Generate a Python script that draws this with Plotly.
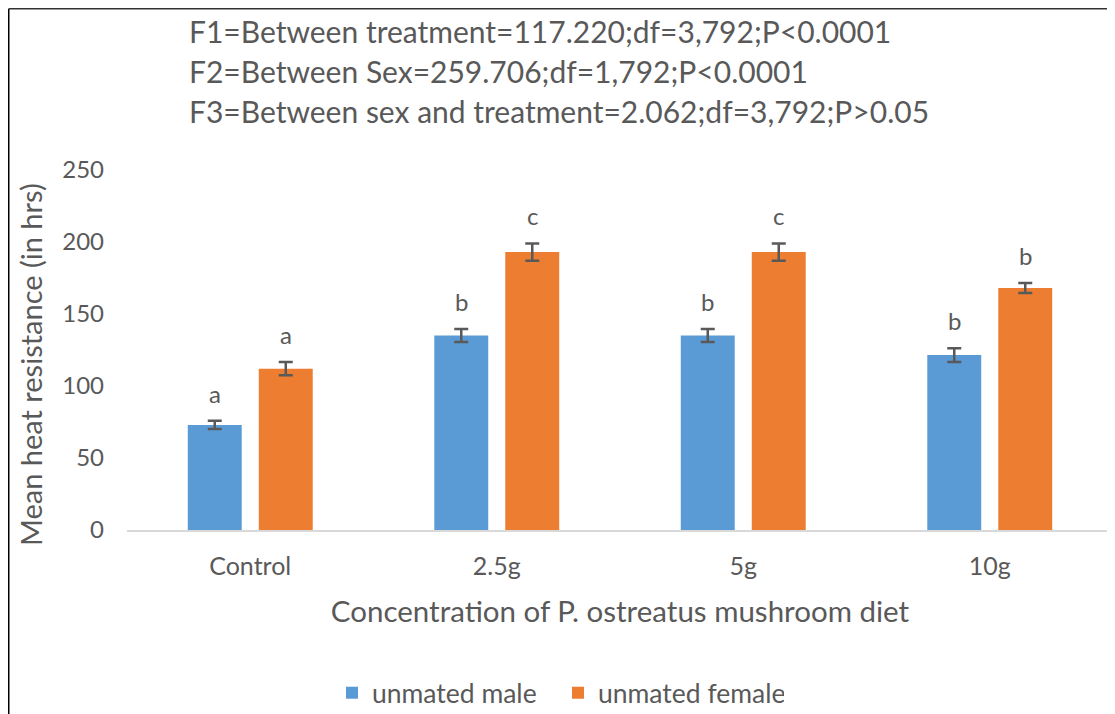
import plotly.graph_objects as go

categories = ["Control", "2.5g", "5g", "10g"]
male_values = [73, 135, 135, 121.5]
male_errors = [2.8, 4.5, 4.5, 4.8]
female_values = [112, 193, 193, 168]
female_errors = [4.6, 6, 6, 3.5]
male_letters = ["a", "b", "b", "b"]
female_letters = ["a", "c", "c", "b"]
stats_lines = [
    "F1=Between treatment=117.220;df=3,792;P<0.0001",
    "F2=Between Sex=259.706;df=1,792;P<0.0001",
    "F3=Between sex and treatment=2.062;df=3,792;P>0.05",
]

FONT = "Lato"
GRAY = "#595959"
OFF = 8  # page body margin
W, H = 1115 - OFF, 714 - OFF
ML, MT, PW, PH = 127 - OFF, 170 - OFF, 986, 360
MR, MB = W - ML - PW, H - MT - PH

def px_x(px):
    return (px - OFF - ML) / PW

def px_y(py):
    return (MT + PH - (py - OFF)) / PH

fig = go.Figure()
fig.add_trace(go.Bar(
    name="unmated male", x=categories, y=male_values,
    marker=dict(color="#5B9BD5", line=dict(width=0)),
    error_y=dict(type="data", array=male_errors, color=GRAY, thickness=2.5, width=7),
))
fig.add_trace(go.Bar(
    name="unmated female", x=categories, y=female_values,
    marker=dict(color="#ED7D31", line=dict(width=0)),
    error_y=dict(type="data", array=female_errors, color=GRAY, thickness=2.5, width=7),
))

annotations = []
for c, v, e, t in zip(categories, male_values, male_errors, male_letters):
    annotations.append(dict(x=c, y=v + e, xref="x", yref="y", text=t, showarrow=False,
                            xshift=-35.5, yshift=11, yanchor="bottom",
                            font=dict(family=FONT, size=24, color=GRAY)))
for c, v, e, t in zip(categories, female_values, female_errors, female_letters):
    annotations.append(dict(x=c, y=v + e, xref="x", yref="y", text=t, showarrow=False,
                            xshift=35.5, yshift=11, yanchor="bottom",
                            font=dict(family=FONT, size=24, color=GRAY)))
for i, line in enumerate(stats_lines):
    annotations.append(dict(x=px_x(187), y=px_y(31 + 40 * i), xref="paper", yref="paper",
                            text=line, showarrow=False, xanchor="left", yanchor="middle",
                            font=dict(family=FONT, size=30, color=GRAY)))
annotations.append(dict(x=px_x(30), y=px_y(365), xref="paper", yref="paper",
                        text="Mean heat resistance (in hrs)", textangle=-90, showarrow=False,
                        xanchor="center", yanchor="middle",
                        font=dict(family=FONT, size=29, color=GRAY)))

shapes = [
    dict(type="line", xref="paper", yref="paper", x0=px_x(OFF + 0.75), x1=px_x(OFF + 0.75),
         y0=px_y(720), y1=px_y(OFF + 0.75), line=dict(color="#000000", width=1.5)),
    dict(type="line", xref="paper", yref="paper", x0=px_x(OFF + 0.75), x1=px_x(1120),
         y0=px_y(OFF + 0.75), y1=px_y(OFF + 0.75), line=dict(color="#333333", width=1.5)),
]

fig.update_layout(
    width=W, height=H,
    margin=dict(l=ML, r=MR, t=MT, b=MB, autoexpand=False),
    paper_bgcolor="white", plot_bgcolor="white",
    barmode="group", bargap=0.424, bargroupgap=0.24,
    font=dict(family=FONT, color=GRAY),
    showlegend=True,
    legend=dict(orientation="h", x=px_x(558), y=px_y(693), xanchor="center", yanchor="middle",
                font=dict(family=FONT, size=26.5, color=GRAY), entrywidth=181),
    annotations=annotations,
    shapes=shapes,
)
fig.update_xaxes(
    showline=True, linecolor="#D9D9D9", linewidth=2, showgrid=False, ticks="",
    tickfont=dict(family=FONT, size=25, color=GRAY), ticklabelstandoff=13,
    title=dict(text="Concentration of P. ostreatus mushroom diet",
               font=dict(family=FONT, size=29.5, color=GRAY), standoff=22),
    automargin=False,
)
fig.update_yaxes(
    range=[0, 250], tickvals=[0, 50, 100, 150, 200, 250], showline=False, showgrid=False,
    zeroline=False, ticks="", tickfont=dict(family=FONT, size=24, color=GRAY),
    ticklabelstandoff=22,
    automargin=False,
)

fig.write_html("out.html")
